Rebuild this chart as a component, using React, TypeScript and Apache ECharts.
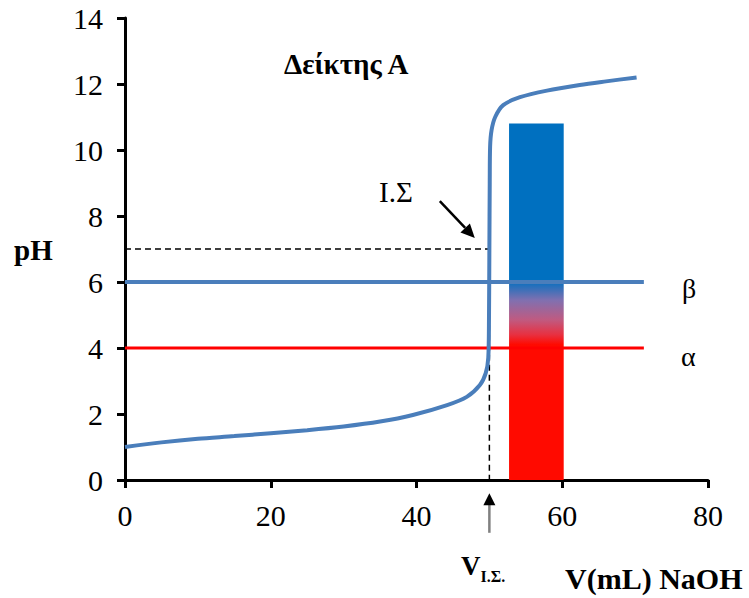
import React, { useEffect, useRef } from "react";
import * as echarts from "echarts";

// Titration curve: volume of NaOH (mL) vs pH
const volume = [0, 5, 10, 15, 20, 25, 30, 35, 39.5, 44.2, 46.9, 48.7, 49.5, 49.85, 49.95, 50, 50.05, 50.1, 50.3, 50.8, 51.9, 54.2, 57.9, 62.4, 66, 70.2];
const ph = [1.0, 1.14, 1.25, 1.33, 1.42, 1.51, 1.62, 1.77, 1.97, 2.27, 2.52, 2.88, 3.24, 3.7, 5.0, 7.0, 9.0, 10.1, 10.6, 11.0, 11.36, 11.6, 11.8, 11.97, 12.08, 12.2];

// Indicator transition lines (pH 4 = α, pH 6 = β)
const lineStartV = 0;
const lineEndV = 71.2;
const phAlpha = 4;
const phBeta = 6;

// Equivalence point
const eqVolume = 50;
const eqPH = 7;

// Indicator colour bar [V start, V end, top pH]
const indicatorBar = [[52.7, 60.2, 10.8]];

// Axis ticks
const xMin = 0, xMax = 80, xStep = 20;
const yMin = 0, yMax = 14, yStep = 2;

const FONT = "Liberation Serif";

export default function App() {
  const ref = useRef<HTMLDivElement>(null);

  useEffect(() => {
    if (!ref.current) return;
    const chart = echarts.init(ref.current, null, { renderer: "svg" });
    const curve = volume.map((v, i) => [v, ph[i]]);
    const option: any = {
      animation: false,
      backgroundColor: "#ffffff",
      grid: { left: 125, top: 18, right: 41, bottom: 118 },
      xAxis: {
        type: "value",
        min: xMin,
        max: xMax,
        interval: xStep,
        splitLine: { show: false },
        axisLine: { lineStyle: { color: "#000", width: 3 } },
        axisTick: { show: true, length: 8, lineStyle: { color: "#000", width: 3 } },
        axisLabel: { color: "#000", fontFamily: FONT, fontSize: 30, margin: 20 },
      },
      yAxis: {
        type: "value",
        min: yMin,
        max: yMax,
        interval: yStep,
        splitLine: { show: false },
        axisLine: { show: true, lineStyle: { color: "#000", width: 3 } },
        axisTick: { show: true, length: 8, lineStyle: { color: "#000", width: 3 } },
        axisLabel: { color: "#000", fontFamily: FONT, fontSize: 30, margin: 22 },
      },
      series: [
        {
          type: "custom",
          z: 1,
          data: indicatorBar,
          encode: { x: [0, 1], y: 2 },
          renderItem: (params: any, api: any) => {
            const x0 = api.value(0), x1 = api.value(1), t = api.value(2);
            const p0 = api.coord([x0, t]);
            const p1 = api.coord([x1, 0]);
            const off = (p: number) => (t - p) / t;
            return {
              type: "rect",
              shape: { x: p0[0], y: p0[1], width: p1[0] - p0[0], height: p1[1] - p0[1] },
              style: {
                fill: new echarts.graphic.LinearGradient(0, 0, 0, 1, [
                  { offset: 0, color: "#0070C0" },
                  { offset: off(phBeta + 0.05), color: "#0070C0" },
                  { offset: off(5.45), color: "#8070B0" },
                  { offset: off(4.85), color: "#C05A80" },
                  { offset: off(4.4), color: "#E83040" },
                  { offset: off(phAlpha + 0.1), color: "#FF0A00" },
                  { offset: 1, color: "#FF0A00" },
                ]),
              },
            };
          },
        },
        {
          type: "line",
          z: 3,
          data: [[lineStartV, phBeta], [lineEndV, phBeta]],
          symbol: "none",
          lineStyle: { color: "#4A7EBB", width: 4 },
        },
        {
          type: "line",
          z: 3,
          data: [[lineStartV, phAlpha], [lineEndV, phAlpha]],
          symbol: "none",
          lineStyle: { color: "#FF0000", width: 3 },
        },
        {
          type: "line",
          z: 4,
          data: [[0, eqPH], [eqVolume, eqPH], [eqVolume, 0]],
          symbol: "none",
          lineStyle: { color: "#000", width: 1.5, type: [6, 4] },
        },
        {
          type: "line",
          z: 5,
          data: curve,
          symbol: "none",
          smooth: 0.3,
          lineStyle: { color: "#4A7EBB", width: 4 },
        },
      ],
    };
    chart.setOption(option);

    // annotations anchored to data coordinates
    const toPx = (p: number[]) => chart.convertToPixel({ gridIndex: 0 }, p) as number[];
    const a0 = toPx([43.2, 8.45]);
    const a1 = toPx([48.0, 7.33]);
    const ang = Math.atan2(a1[1] - a0[1], a1[0] - a0[0]);
    const head = 14, hw = 6.5;
    const hb = [a1[0] - head * Math.cos(ang), a1[1] - head * Math.sin(ang)];
    const nx = -Math.sin(ang), ny = Math.cos(ang);
    const b0 = toPx([eqVolume, -1.6]);
    const b1 = toPx([eqVolume, -0.4]);
    chart.setOption({
      graphic: [
        { type: "line", shape: { x1: a0[0], y1: a0[1], x2: hb[0], y2: hb[1] }, style: { stroke: "#000", lineWidth: 2.5 } },
        {
          type: "polygon",
          shape: { points: [a1, [hb[0] + nx * hw, hb[1] + ny * hw], [hb[0] - nx * hw, hb[1] - ny * hw]] },
          style: { fill: "#000" },
        },
        { type: "line", shape: { x1: b0[0], y1: b0[1], x2: b1[0], y2: b1[1] + 10 }, style: { stroke: "#808080", lineWidth: 2.5 } },
        {
          type: "polygon",
          shape: { points: [[b1[0], b1[1]], [b1[0] - 6, b1[1] + 12], [b1[0] + 6, b1[1] + 12]] },
          style: { fill: "#000" },
        },
        { type: "text", x: 284, y: 64, style: { text: "Δείκτης Α", font: `bold 29px "${FONT}"`, fill: "#000", textVerticalAlign: "middle" } },
        { type: "text", x: 379, y: 192, style: { text: "Ι.Σ", font: `29px "${FONT}"`, fill: "#000", textVerticalAlign: "middle" } },
        { type: "text", x: 14, y: 250, style: { text: "pH", font: `bold 29px "${FONT}"`, fill: "#000", textVerticalAlign: "middle" } },
        { type: "text", x: 682, y: 288, style: { text: "β", font: `28px "${FONT}"`, fill: "#000", textVerticalAlign: "middle" } },
        { type: "text", x: 681, y: 356, style: { text: "α", font: `28px "${FONT}"`, fill: "#000", textVerticalAlign: "middle" } },
        {
          type: "text",
          x: 461,
          y: 566,
          style: {
            text: "{v|V}{s|Ι.Σ.}",
            rich: {
              v: { font: `bold 27px "${FONT}"`, fill: "#000", verticalAlign: "bottom" },
              s: { font: `bold 16px "${FONT}"`, fill: "#000", verticalAlign: "bottom", padding: [0, 0, -5, 0] },
            },
            textVerticalAlign: "middle",
          },
        },
        { type: "text", x: 565, y: 578, style: { text: "V(mL) NaOH", font: `bold 30px "${FONT}"`, fill: "#000", textVerticalAlign: "middle" } },
      ],
    });

    return () => chart.dispose();
  }, []);

  return <div ref={ref} style={{ position: "absolute", left: 0, top: 0, width: 749, height: 598 }} />;
}
